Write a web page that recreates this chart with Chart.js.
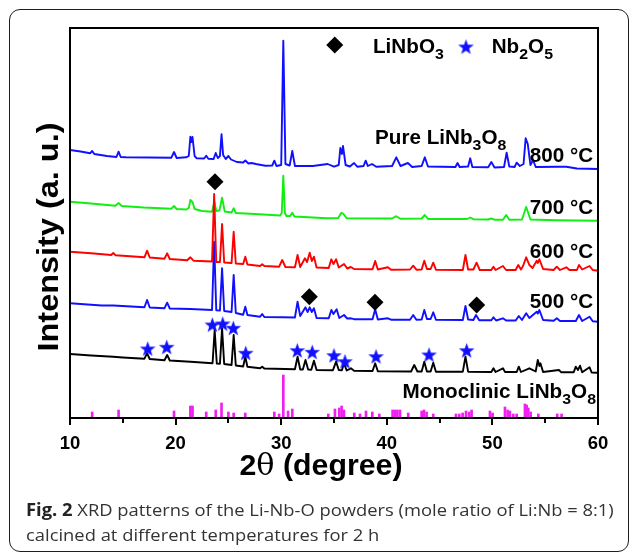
<!DOCTYPE html>
<html><head><meta charset="utf-8">
<script src="https://cdn.jsdelivr.net/npm/chart.js@4.4.1/dist/chart.umd.min.js"></script>
<style>
html,body{margin:0;padding:0;background:#fff;width:629px;height:554px;overflow:hidden;position:relative}
#c{position:absolute;left:0;top:0}
#box{position:absolute;left:9px;top:9px;width:620px;height:543px;box-sizing:border-box;border:1.5px solid #1e1e1e;border-radius:11px}
#cap{position:absolute;left:26px;top:497px;font-family:"Open Sans",sans-serif;font-size:17px;line-height:25px;color:#333;white-space:nowrap;transform-origin:0 0;transform:scaleX(1.08)}
#cap b{font-weight:700;color:#222}
</style></head><body>
<div id="box"></div>
<canvas id="c" width="629" height="554"></canvas>
<div id="cap"><b>Fig. 2</b> XRD patterns of the Li-Nb-O powders (mole ratio of Li:Nb = 8:1)<br>calcined at different temperatures for 2 h</div>
<script>
// ---- data: [2theta (degree), intensity (a.u.)] ----
const xTicks = [10, 20, 30, 40, 50, 60];
const xMinorTicks = [15, 25, 35, 45, 55];
const s800 = [[10,268],[11,266.5],[11.9,264.7],[12.1,267],[12.3,264],[13.5,262],[14.4,261],[14.6,266.3],[14.8,261],[15.3,260.7],[17.5,260.5],[19.6,260.3],[19.85,266],[20.1,260],[21.0,260.7],[21.25,262],[21.4,281.3],[21.5,276],[21.6,281],[21.8,262],[22.0,259.7],[22.7,259.5],[22.9,262.3],[23.1,259.3],[23.6,259],[23.8,265],[24.0,260],[24.2,262],[24.35,283.7],[24.5,263],[24.75,259],[25.0,262],[25.25,258.5],[25.8,256],[26.4,255.5],[26.6,257.5],[26.9,254.5],[27.2,255],[27.6,254],[28.5,252.3],[29.15,252.5],[29.35,257.3],[29.55,252],[30.0,253],[30.2,377.3],[30.4,254],[30.8,252.5],[31.05,267],[31.3,252],[33.0,252],[34.4,254],[35.0,251.3],[35.45,253],[35.6,270],[35.75,264],[35.85,272],[36.1,253],[36.5,251.5],[36.9,255],[37.2,251.3],[37.8,252],[38.0,257.3],[38.2,252],[38.6,254],[39.0,251.3],[40.5,252],[40.9,260.7],[41.3,252],[42.0,255],[42.4,251],[43.3,252],[43.6,260.7],[43.9,251.5],[46.5,251],[46.7,255],[46.9,251],[47.7,251.5],[47.9,259.7],[48.1,251],[49.6,250.7],[49.9,256],[50.2,250.5],[51.1,251],[51.35,265.3],[51.6,251.5],[52.1,251],[52.3,255.3],[52.6,252],[52.95,254],[53.15,279.7],[53.35,274],[53.6,253],[53.85,258],[54.1,251],[56.2,251.3],[57.0,251.3],[58.0,249.5],[60,249]];
const s700 = [[10,216.3],[12,214.5],[14.3,212.3],[14.6,215],[14.9,212],[17,210.5],[19.6,209.3],[19.85,212],[20.1,209],[21.0,208.5],[21.25,210],[21.4,218],[21.6,216],[21.8,209],[22.5,207],[23.45,206.3],[23.67,216.3],[23.85,207],[24.15,207.5],[24.4,220.3],[24.65,206.5],[25.3,205.5],[25.5,209.7],[25.7,205],[27.5,204],[29.9,202.5],[30.05,205],[30.2,242.3],[30.35,205],[30.5,202],[30.85,202],[31.05,205.3],[31.25,201.5],[34.3,199.7],[35.4,200],[35.7,205.3],[35.9,204],[36.2,199.7],[40.5,199.5],[40.9,201.8],[41.3,199.3],[43.3,199.5],[43.6,203],[43.9,199],[47.6,199],[47.9,200.5],[48.2,198.8],[49.6,198.5],[49.9,199.5],[50.2,198.3],[51.0,198.3],[51.3,203],[51.6,198.3],[52.8,198.5],[53.2,211],[53.6,198.5],[56,197.8],[60,197.3]];
const s600 = [[10,166.3],[12,164.7],[13.9,163],[14.1,165],[14.3,162.8],[17.05,160.7],[17.3,167.3],[17.55,160.5],[18.95,159.3],[19.2,164.7],[19.45,159],[21.1,157.7],[21.4,160.7],[21.7,157.3],[23.45,156.5],[23.65,224],[23.85,156],[24.2,156],[24.4,194],[24.6,155.5],[25.3,155],[25.5,186.3],[25.7,154.5],[26.4,154],[26.6,161.3],[26.8,153.5],[28.0,152],[28.2,153.8],[28.4,152],[29.8,151.3],[30.1,158],[30.4,151],[31.3,150.7],[31.55,163],[31.8,151],[32.25,159.7],[32.45,156],[32.7,165.3],[32.9,157],[33.1,161.3],[33.35,150.5],[34.5,150],[34.75,158.7],[34.95,154],[35.2,158.7],[35.45,150.5],[35.95,154],[36.25,149.5],[36.6,151],[36.9,149],[38.65,148.7],[38.9,157],[39.15,148.5],[40.1,150.7],[40.4,148.2],[42.2,148.5],[42.5,152.3],[42.8,148.3],[43.3,148.5],[43.55,157.3],[43.8,149],[44.15,149],[44.4,155.3],[44.65,148.3],[47.2,148],[47.45,163],[47.7,148.5],[48.2,148.5],[48.5,155.3],[48.8,148],[49.9,148],[50.1,151.3],[50.3,148],[51.0,152],[51.3,148],[52.2,148],[52.45,153],[52.7,148.5],[52.9,152],[53.2,160.7],[53.5,153],[53.8,150],[54.2,157.3],[54.3,155],[54.45,158.7],[54.8,149],[55.8,148],[56.1,151.3],[56.4,148],[57.0,150.7],[57.3,148],[58.0,148],[58.2,153],[58.5,148.5],[59.2,152],[59.5,148],[60,147.3]];
const s500 = [[10,114.7],[13,112.5],[14.1,112.5],[17.05,110.7],[17.3,118],[17.55,110.5],[18.95,109.8],[19.2,115.3],[19.45,109.5],[21.4,109],[23.45,108],[23.65,176.3],[23.85,107.8],[24.2,107.5],[24.4,149.7],[24.6,107],[25.3,106],[25.5,143],[25.7,105],[26.4,103.3],[26.6,111.3],[26.8,103],[28.0,101.3],[28.2,104],[28.4,101],[30.1,100.7],[31.3,100.5],[31.55,116.3],[31.8,102],[32.3,110.7],[32.5,106],[32.7,110.7],[32.9,106],[33.1,109.7],[33.35,100],[34.5,99.7],[34.75,108],[34.95,104],[35.25,108.7],[35.5,100],[35.95,103],[36.25,99.5],[36.6,99.7],[36.9,98.8],[38.65,98.7],[38.9,108.7],[39.15,98.5],[40.1,99.7],[40.4,98.3],[42.2,98.3],[42.5,103],[42.8,98.2],[43.3,98.5],[43.55,108],[43.8,99],[44.15,99],[44.4,105.7],[44.65,98.2],[47.2,98],[47.45,112],[47.7,98.5],[48.2,98],[48.45,103],[48.75,97.8],[49.9,97.8],[50.1,100.7],[50.35,97.5],[51.0,99.7],[51.3,97.5],[52.2,97.5],[52.5,102],[52.8,98],[53.2,104.7],[53.5,100],[54.2,106.3],[54.3,104.5],[54.45,108],[54.8,98],[55.8,97.2],[56.1,99.7],[56.4,97],[57.9,97],[58.2,103],[58.5,97],[59.2,101.3],[59.5,96.8],[60,96.3]];
const sRaw = [[10,64],[12,62.5],[14.1,61.2],[15,60.5],[17.05,59.3],[17.3,64.7],[17.55,59],[18.95,57.8],[19.2,63],[19.45,57.5],[21.4,56.3],[23.5,54.8],[23.7,88],[23.9,54.5],[24.2,54.3],[24.4,89.7],[24.6,54],[25.3,53],[25.5,83],[25.7,52.5],[26.4,51.5],[26.6,61.3],[26.8,51.2],[28.0,49.7],[28.2,51.3],[28.4,49.5],[31.3,48.7],[31.55,61.3],[31.8,48.5],[32.05,48.5],[32.3,58],[32.55,48.5],[32.85,48.3],[33.1,57.3],[33.35,48],[34.9,47.8],[35.2,56.3],[35.45,48],[35.75,47.8],[35.95,54.7],[36.2,47.5],[36.6,49.7],[36.9,47.2],[38.65,47],[38.9,54.7],[39.15,46.8],[42.3,46.5],[42.6,53],[42.9,46.5],[43.3,46.5],[43.55,56.3],[43.8,46.5],[44.15,46.5],[44.4,55.3],[44.65,46.3],[47.2,46.3],[47.45,61.3],[47.7,46.3],[49.9,46],[50.1,49.7],[50.3,46],[51.0,49.7],[51.2,46],[52.3,46],[52.5,51.3],[52.7,46],[53.5,49.7],[54.1,46.5],[54.3,58],[54.45,52],[54.55,54.7],[54.8,46],[56.3,48],[56.5,45.8],[57.7,45.8],[57.9,51.3],[58.1,48],[58.3,52.3],[58.5,45.7],[59.2,50.7],[59.4,45.5],[60,45.3]];
const refSticks = [[12.1,6],[14.6,8],[19.85,7],[21.4,12],[21.6,12],[22.9,6],[23.8,8],[24.35,15],[25.0,6],[25.5,5],[26.6,5],[29.35,6],[29.8,4],[30.2,43],[30.65,7],[31.05,9],[34.46,4],[35.09,9],[35.5,10],[35.72,12],[35.94,8],[36.92,5],[37.46,4],[38.03,7],[38.63,6],[39.29,4],[40.55,8],[40.77,8],[41.0,8],[41.25,8],[42.03,5],[43.3,7],[43.52,8],[43.77,6],[44.4,4],[46.55,4],[46.86,4],[47.18,5],[47.5,7],[47.81,6],[48.03,8],[49.77,7],[50.02,5],[51.19,11],[51.44,8],[51.66,7],[51.98,4],[52.3,4],[53.08,14],[53.24,13],[53.4,10],[53.62,6],[54.35,4],[56.14,4],[56.55,4]];
const lnoMarks = [[23.73,236.3],[32.66,121.3],[38.88,115.7],[48.51,113]];
const nbMarks = [[17.36,69],[19.16,70.7],[23.48,93],[24.46,94],[25.46,89.7],[26.64,64.7],[31.52,67.3],[32.94,65.7],[35.0,62.3],[36.04,56.3],[38.98,61.3],[44.0,63],[47.56,67.3]];

// ---- text annotations (placed in data coordinates) ----
const notes = [
  {segs:[['LiNbO',0],['3',1]], t:38.69, i:364.7, align:'left'},
  {segs:[['Nb',0],['2',1],['O',0],['5',1]], t:49.93, i:364.7, align:'left'},
  {segs:[['Pure LiNb',0],['3',1],['O',0],['8',1]], t:38.88, i:274, align:'left'},
  {segs:[['800 °C',0]], t:59.55, i:256.3, align:'right'},
  {segs:[['700 °C',0]], t:59.55, i:204, align:'right'},
  {segs:[['600 °C',0]], t:59.55, i:160, align:'right'},
  {segs:[['500 °C',0]], t:59.55, i:110.5, align:'right'},
  {segs:[['Monoclinic LiNb',0],['3',1],['O',0],['8',1]], t:59.81, i:20, align:'right'}
];
const legendMarks = {diamond:[35.07,373], star:[47.5,371]};

const toXY = a => a.map(p => ({x:p[0], y:p[1]}));
const BLUE = '#1010ff';

// filled five-point star image for Nb2O5 marks
function makeStar(){
  const c = document.createElement('canvas'); c.width = 17; c.height = 17;
  const g = c.getContext('2d'); g.fillStyle = BLUE; g.beginPath();
  for (let k = 0; k < 10; k++){
    const r = k % 2 ? 3.3 : 8.2, a = -Math.PI/2 + k*Math.PI/5;
    g.lineTo(8.5 + r*Math.cos(a), 8.9 + r*Math.sin(a));
  }
  g.closePath(); g.fill(); return c;
}
const starImg = makeStar();

const FONT = '"Liberation Sans", Arial, sans-serif';
function drawRich(ctx, segs, x, y, align, size, sx){
  const mainF = 'bold ' + size + 'px ' + FONT, subF = 'bold ' + (size*0.77).toFixed(1) + 'px ' + FONT;
  let w = 0;
  segs.forEach(s => { ctx.font = s[1] ? subF : mainF; w += ctx.measureText(s[0]).width; });
  const start = align === 'right' ? x - w*sx : x;
  ctx.save(); ctx.translate(start, y); ctx.scale(sx, 1);
  ctx.fillStyle = '#000'; ctx.textBaseline = 'alphabetic'; ctx.textAlign = 'left';
  let cx = 0;
  segs.forEach(s => { ctx.font = s[1] ? subF : mainF; ctx.fillText(s[0], cx, s[1] ? 6 : 0); cx += ctx.measureText(s[0]).width; });
  ctx.restore();
}

const decor = {
  id:'decor',
  afterDraw(chart){
    const ctx = chart.ctx, a = chart.chartArea, xs = chart.scales.x, ys = chart.scales.y;
    ctx.save();
    // frame
    ctx.strokeStyle = '#000'; ctx.lineWidth = 2;
    ctx.strokeRect(a.left, a.top, a.right - a.left, a.bottom - a.top);
    // x tick marks (outward)
    ctx.beginPath();
    xTicks.forEach(v => { const p = Math.round(xs.getPixelForValue(v)); ctx.moveTo(p, a.bottom); ctx.lineTo(p, a.bottom + 7); });
    xMinorTicks.forEach(v => { const p = Math.round(xs.getPixelForValue(v)); ctx.moveTo(p, a.bottom); ctx.lineTo(p, a.bottom + 5); });
    ctx.stroke();
    // annotation text
    notes.forEach(n => drawRich(ctx, n.segs, xs.getPixelForValue(n.t), ys.getPixelForValue(n.i), n.align, 19.5, 1.06));
    // legend markers
    const dx = xs.getPixelForValue(legendMarks.diamond[0]), dy = ys.getPixelForValue(legendMarks.diamond[1]);
    ctx.fillStyle = '#000'; ctx.beginPath();
    ctx.moveTo(dx, dy - 8.5); ctx.lineTo(dx + 8.5, dy); ctx.lineTo(dx, dy + 8.5); ctx.lineTo(dx - 8.5, dy); ctx.closePath(); ctx.fill();
    const sxp = xs.getPixelForValue(legendMarks.star[0]), syp = ys.getPixelForValue(legendMarks.star[1]);
    ctx.drawImage(starImg, sxp - 8.5, syp - 8.5);
    // y title
    ctx.save();
    ctx.translate(a.left - 12.5, a.top + 209); ctx.rotate(-Math.PI/2);
    ctx.font = 'bold 29px ' + FONT;
    const yt = 'Intensity (a. u.)', yw = ctx.measureText(yt).width;
    ctx.scale(229 / yw, 1); ctx.textAlign = 'center'; ctx.textBaseline = 'alphabetic'; ctx.fillStyle = '#000';
    ctx.fillText(yt, 0, 0);
    ctx.restore();
    // x title: 2θ (degree)
    const parts = [['2','bold 29px ' + FONT],['θ','29px "DejaVu Serif", serif'],[' (degree)','bold 29px ' + FONT]];
    let tw = 0; parts.forEach(p => { ctx.font = p[1]; tw += ctx.measureText(p[0]).width; });
    const sx = 163 / tw;
    ctx.save(); ctx.translate(a.left + 251 - 81.5, a.bottom + 57); ctx.scale(sx, 1);
    ctx.fillStyle = '#000'; ctx.textAlign = 'left'; ctx.textBaseline = 'alphabetic';
    let cx = 0; parts.forEach(p => { ctx.font = p[1]; ctx.fillText(p[0], cx, 0); cx += ctx.measureText(p[0]).width; });
    ctx.restore();
    ctx.restore();
  }
};

new Chart(document.getElementById('c'), {
  type: 'line',
  data: {
    datasets: [
      {type:'scatter', data: toXY(lnoMarks), pointStyle:'rectRot', pointRadius:8.5, backgroundColor:'#000', borderWidth:0, order:0},
      {type:'scatter', data: toXY(nbMarks), pointStyle: starImg, pointRadius:8.5, order:0},
      {data: toXY(sRaw), borderColor:'#000', order:5},
      {data: toXY(s500), borderColor:BLUE, order:4},
      {data: toXY(s600), borderColor:'#ff0000', order:2},
      {data: toXY(s700), borderColor:'#11ee11', order:3},
      {data: toXY(s800), borderColor:BLUE, order:1},
      {type:'bar', data: toXY(refSticks), backgroundColor:'#f020f0', barThickness:2, grouped:false, order:6}
    ]
  },
  options: {
    responsive:false, animation:false, devicePixelRatio:1,
    elements:{ line:{borderWidth:1.9, tension:0, fill:false, borderJoinStyle:'round'}, point:{radius:0, hoverRadius:0} },
    layout:{ padding:{left:70, right:31, top:28, bottom:86} },
    plugins:{ legend:{display:false}, tooltip:{enabled:false} },
    events: [],
    scales:{
      x:{ type:'linear', min:10, max:60, offset:false,
          afterBuildTicks: s => { s.ticks = xTicks.map(v => ({value:v})); },
          afterFit: s => { s.height = 50; },
          grid:{ display:false },
          border:{ display:false },
          ticks:{ autoSkip:false, maxRotation:0, padding:7, color:'#000',
                  font:{ family:FONT, size:18.5, weight:'bold' } } },
      y:{ type:'linear', min:0, max:390, display:false }
    }
  },
  plugins:[decor]
});
</script>
</body></html>
